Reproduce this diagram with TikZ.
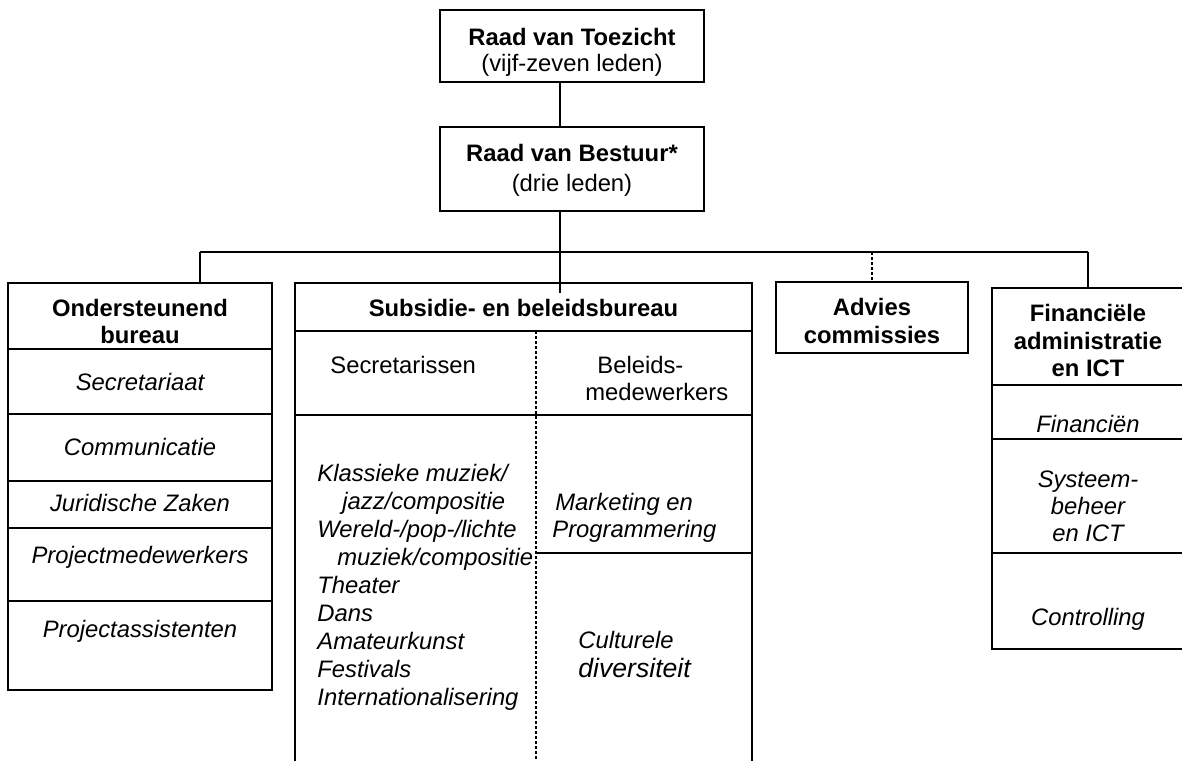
\documentclass[tikz,border=0pt]{standalone}
\usepackage{fontspec}
\setmainfont{Liberation Sans}

\begin{document}
\begin{tikzpicture}[x=0.5pt,y=-0.5pt,
  frame/.style={draw, line width=1.3pt, inner sep=0pt, outer sep=0pt},
  rule/.style={line width=0.9pt},
  divider/.style={line width=0.9pt, dash pattern=on 1.5pt off 1pt},
  link/.style={line width=1pt},
  txt/.style={anchor=base, inner sep=0pt, font=\fontsize{11.9}{14}\selectfont},
  head/.style={txt, font=\fontsize{11.9}{14}\selectfont\bfseries},
  item/.style={txt, font=\fontsize{11.9}{14}\selectfont\itshape}]
  \useasboundingbox (0,0) rectangle (1182,760);

  % boards
  \node[frame, minimum width=132pt, minimum height=36pt] (toezicht) at (572,46) {};
  \node[head] (toezicht-a) at (572,45) {Raad van Toezicht};
  \node[txt] (toezicht-b) at (572,71) {(vijf-zeven leden)};

  \node[frame, minimum width=132pt, minimum height=42pt] (bestuur) at (572,169) {};
  \node[head] (bestuur-a) at (572,161) {Raad van Bestuur*};
  \node[txt] (bestuur-b) at (572,191) {(drie leden)};

  % ondersteunend bureau
  \node[frame, minimum width=132pt, minimum height=203.5pt] (ond) at (140,486.5) {};
  \foreach \y in {349,414,481,528,601}
    \draw[rule] (ond.west |- 0,\y) -- (ond.east |- 0,\y);
  \node[head] (ond-a) at (140,316) {Ondersteunend};
  \node[head] (ond-b) at (140,343) {bureau};
  \node[item] (ond-sec) at (140,390) {Secretariaat};
  \node[item] (ond-com) at (140,455) {Communicatie};
  \node[item] (ond-jur) at (140,511) {Juridische Zaken};
  \node[item] (ond-pm) at (140,563) {Projectmedewerkers};
  \node[item] (ond-pa) at (140,637) {Projectassistenten};

  % subsidie- en beleidsbureau
  \node[frame, minimum width=228.5pt, minimum height=253.5pt] (sub) at (523.5,536.5) {};
  \foreach \y in {331,415}
    \draw[rule] (sub.west |- 0,\y) -- (sub.east |- 0,\y);
  \coordinate (div) at (536,331);
  \draw[rule] (div |- 0,553) -- (sub.east |- 0,553);
  \draw[divider] (div) -- (div |- sub.south);
  \node[head] (sub-a) at (523.5,316) {Subsidie- en beleidsbureau};
  \node[txt, anchor=base west] (sub-sec) at (330,373) {Secretarissen};
  \node[txt, anchor=base west] (sub-bel-a) at (597,373) {Beleids-};
  \node[txt, anchor=base west] (sub-bel-b) at (585,400) {medewerkers};
  \node[item, anchor=north west, align=left] (genres) at (317,464)
    {Klassieke muziek/\\\hspace*{12.5pt}jazz/compositie\\Wereld-/pop-/lichte\\
     \hspace*{10pt}muziek/compositie\\Theater\\Dans\\Amateurkunst\\Festivals\\
     Internationalisering};
  \node[item, anchor=base west] (sub-mar-a) at (555,510) {Marketing en};
  \node[item, anchor=base west] (sub-mar-b) at (552,537) {Programmering};
  \node[item, anchor=base west] (sub-cul-a) at (578,648) {Culturele};
  \node[item, anchor=base west, font=\fontsize{13.3}{16}\selectfont\itshape]
    (sub-cul-b) at (578,677) {diversiteit};

  % advies commissies
  \node[frame, minimum width=96pt, minimum height=35.5pt] (advies) at (872,317.5) {};
  \node[head] (advies-a) at (872,315) {Advies};
  \node[head] (advies-b) at (872,343) {commissies};

  % financiele administratie
  \node[frame, minimum width=96pt, minimum height=180.5pt] (fin) at (1088,468.5) {};
  \foreach \y in {385,439,553}
    \draw[rule] (fin.west |- 0,\y) -- (fin.east |- 0,\y);
  \node[head] (fin-a) at (1088,321) {Financiële};
  \node[head] (fin-b) at (1088,349) {administratie};
  \node[head] (fin-c) at (1088,376) {en ICT};
  \node[item] (fin-fin) at (1088,432) {Financiën};
  \node[item] (fin-sys-a) at (1088,487) {Systeem-};
  \node[item] (fin-sys-b) at (1088,514) {beheer};
  \node[item] (fin-sys-c) at (1088,541) {en ICT};
  \node[item] (fin-ctl) at (1088,625) {Controlling};

  % lines
  \coordinate (spine) at (560,252);
  \coordinate (busL) at (200,252);
  \coordinate (busR) at (1088,252);
  \draw[link] (toezicht.south -| spine) -- (bestuur.north -| spine);
  \draw[link] (bestuur.south -| spine) -- (spine);
  \draw[link] (busL) -- (busR);
  \draw[link] (busL) -- (busL |- ond.north);
  \draw[link] (spine) -- ([yshift=-5pt]sub.north -| spine);
  \draw[link, dash pattern=on 1.5pt off 1pt] (advies.north |- busR) -- (advies.north);
  \draw[link] (busR) -- (fin.north);
\end{tikzpicture}
\end{document}
